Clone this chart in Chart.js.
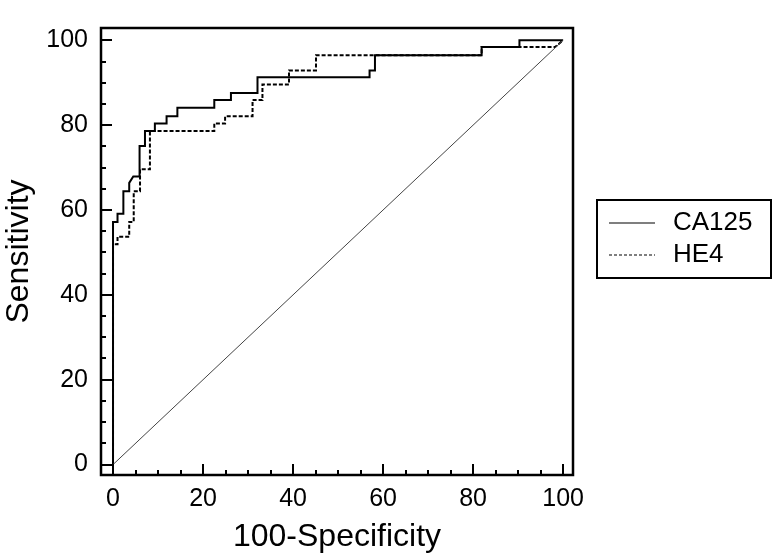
<!DOCTYPE html>
<html>
<head>
<meta charset="utf-8">
<script src="https://cdn.jsdelivr.net/npm/chart.js@4.4.1/dist/chart.umd.min.js"></script>
<style>
html, body { margin: 0; padding: 0; background: #fff; }
#wrap { width: 774px; height: 560px; }
</style>
</head>
<body>
<div id="wrap"><canvas id="roc" width="774" height="560"></canvas></div>
<script>
// ROC curves CA125 vs HE4

const caFpr  = [0, 0, 1.0, 1.0, 2.3, 2.3, 3.6, 3.6, 4.5, 5.9, 5.9, 7.1, 7.1, 9.3, 9.3, 11.9, 11.9, 14.3, 14.3, 22.5, 22.5, 26.2, 26.2, 32.1, 32.1, 57.0, 57.0, 58.2, 58.2, 81.9, 81.9, 90.3, 90.3, 100];
const caSens = [0, 57.2, 57.2, 59.1, 59.1, 64.4, 64.4, 66.4, 67.9, 67.9, 75.1, 75.1, 78.6, 78.6, 80.4, 80.4, 82.1, 82.1, 84.1, 84.1, 85.9, 85.9, 87.6, 87.6, 91.3, 91.3, 92.9, 92.9, 96.5, 96.5, 98.4, 98.4, 100, 100];

const heFpr  = [0, 0, 1.0, 1.0, 3.6, 3.6, 4.6, 4.6, 6.0, 6.0, 8.2, 8.2, 22.5, 22.5, 24.9, 24.9, 31.0, 31.0, 33.2, 33.2, 39.1, 39.1, 45.1, 45.1, 81.9, 81.9, 98.2, 100];
const heSens = [0, 51.9, 51.9, 53.7, 53.7, 57.2, 57.2, 64.4, 64.4, 69.6, 69.6, 78.6, 78.6, 80.4, 80.4, 82.1, 82.1, 85.9, 85.9, 89.6, 89.6, 92.9, 92.9, 96.5, 96.5, 98.4, 98.4, 100];

// reference line (chance)
const refFpr  = [0, 100];
const refSens = [0, 100];

const tickValues = [0, 20, 40, 60, 80, 100];

function pts(xs, ys) {
    return xs.map((v, i) => ({ x: v, y: ys[i] }));
}

const FONT = 'Arial, "Liberation Sans", Helvetica, sans-serif';

// border, inward ticks and boxed legend
const frame = {
    id: 'frame',
    afterDraw(chart) {
        const { ctx, chartArea: a, scales: { x, y } } = chart;
        ctx.save();
        ctx.strokeStyle = '#000';
        ctx.lineWidth = 2;
        for (let v = 0; v <= 100; v += 5) {
            const len = v % 20 === 0 ? 11 : 5;
            const px = Math.round(x.getPixelForValue(v));
            ctx.beginPath(); ctx.moveTo(px, a.bottom); ctx.lineTo(px, a.bottom - len); ctx.stroke();
            const py = Math.round(y.getPixelForValue(v));
            ctx.beginPath(); ctx.moveTo(a.left, py); ctx.lineTo(a.left + len, py); ctx.stroke();
        }
        ctx.lineWidth = 2.5;
        ctx.strokeRect(a.left, a.top, a.right - a.left, a.bottom - a.top);

        // legend
        ctx.lineWidth = 2;
        ctx.strokeRect(597, 200, 174, 78);
        ctx.font = '26px ' + FONT;
        ctx.fillStyle = '#000';
        ctx.textBaseline = 'middle';
        const items = chart.data.datasets.filter(d => d.label);
        items.forEach((d, i) => {
            const ly = 223 + i * 32;
            ctx.lineWidth = 1.2;
            ctx.setLineDash(d.borderDash ? [3, 2] : []);
            ctx.beginPath(); ctx.moveTo(609, ly); ctx.lineTo(655, ly); ctx.stroke();
            ctx.setLineDash([]);
            ctx.fillText(d.label, 673, ly);
        });
        ctx.restore();
    }
};

new Chart(document.getElementById('roc'), {
    type: 'scatter',
    data: {
        datasets: [
            { data: pts(refFpr, refSens), showLine: true, borderColor: '#444', borderWidth: 1, pointRadius: 0 },
            { label: 'CA125', data: pts(caFpr, caSens), showLine: true, borderColor: '#000', borderWidth: 2, pointRadius: 0 },
            { label: 'HE4', data: pts(heFpr, heSens), showLine: true, borderColor: '#000', borderWidth: 2, borderDash: [4, 2], pointRadius: 0 }
        ]
    },
    options: {
        responsive: false,
        animation: false,
        devicePixelRatio: 1,
        layout: { padding: { left: 0, top: 3, right: 201, bottom: 0 } },
        plugins: { legend: { display: false }, tooltip: { enabled: false } },
        scales: {
            x: {
                type: 'linear', min: -2.67, max: 102.2,
                afterBuildTicks: s => { s.ticks = tickValues.map(v => ({ value: v })); },
                afterFit: s => { s.height = 85; },
                grid: { display: false, drawTicks: false },
                border: { display: false },
                ticks: { color: '#000', padding: 9, font: { size: 25, family: FONT } },
                title: { display: true, text: '100-Specificity', color: '#000', padding: { top: 0, bottom: 4 }, font: { size: 32, family: FONT } }
            },
            y: {
                type: 'linear', min: -2.46, max: 102.9,
                afterBuildTicks: s => { s.ticks = tickValues.map(v => ({ value: v })); },
                afterFit: s => { s.width = 101; },
                grid: { display: false, drawTicks: false },
                border: { display: false },
                ticks: { color: '#000', padding: 13, font: { size: 25, family: FONT } },
                title: { display: true, text: 'Sensitivity', color: '#000', padding: { top: 0, bottom: 0 }, font: { size: 32, family: FONT } }
            }
        }
    },
    plugins: [frame]
});
</script>
</body>
</html>
